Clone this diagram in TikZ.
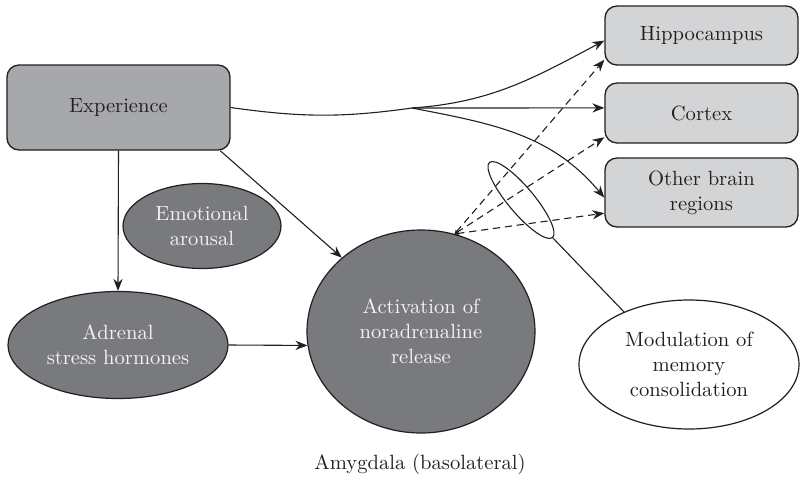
\documentclass[tikz,border=0pt]{standalone}
\usepackage{tikz}
\usepackage{xcolor}
\usetikzlibrary{arrows.meta,shapes.geometric}

\definecolor{inkblack}{HTML}{231F20}
\definecolor{expgray}{HTML}{A7A8AB}
\definecolor{tgtgray}{HTML}{D3D4D6}
\definecolor{ovalgray}{HTML}{797A7E}
\definecolor{ovaltext}{HTML}{F4F4F4}

\begin{document}
\begin{tikzpicture}[
    x=0.5pt, y=-0.5pt,
    font=\fontsize{10.3}{12.6}\selectfont,
    rbox/.style={
        rectangle,
        rounded corners=6pt,
        draw=inkblack,
        line width=0.65pt,
        text=inkblack,
        align=center,
        inner sep=0pt
    },
    srcbox/.style={
        rbox,
        fill=expgray,
        minimum width=111.5pt,
        minimum height=42.5pt
    },
    tgtbox/.style={
        rbox,
        fill=tgtgray,
        minimum width=96.5pt
    },
    darkoval/.style={
        ellipse,
        draw=inkblack,
        line width=0.6pt,
        fill=ovalgray,
        text=ovaltext,
        align=center,
        inner sep=0pt
    },
    whiteoval/.style={
        ellipse,
        draw=inkblack,
        line width=0.6pt,
        fill=white,
        text=inkblack,
        align=center,
        inner sep=0pt
    },
    arr/.style={
        draw=inkblack,
        line width=0.55pt,
        -{Stealth[length=6pt,width=4.6pt]}
    },
    dasharr/.style={
        draw=inkblack,
        line width=0.55pt,
        dash pattern=on 3.6pt off 2.4pt,
        {Stealth[length=2.2pt,width=2pt]}-{Stealth[length=6pt,width=4.6pt]}
    }
]
\useasboundingbox (0,0) rectangle (800,478);

% --- 左側：經驗與壓力荷爾蒙 ---
\node[srcbox] (exp) at (118.5,107.5) {Experience};
\node[darkoval, minimum width=79pt, minimum height=42.5pt] (emo) at (202,226) {Emotional\\arousal};
\node[darkoval, minimum width=110pt, minimum height=53.5pt] (adr) at (118,345) {Adrenal\\stress hormones};

% --- 杏仁核 ---
\node[darkoval, minimum width=114pt, minimum height=101.5pt] (act) at (421,331.5) {Activation of\\noradrenaline\\release};
\node[text=inkblack] (amy) at (420,464) {Amygdala (basolateral)};

% --- 右側：腦區 ---
\node[tgtbox, minimum height=29.5pt] (hip) at (701.5,35.5) {Hippocampus};
\node[tgtbox, minimum height=30pt] (cor) at (701.5,113) {Cortex};
\node[tgtbox, minimum height=34.5pt] (oth) at (701.5,192.5) {Other brain\\regions};

% 調節
\node[whiteoval, minimum width=110pt, minimum height=64.5pt] (mod) at (689,364.5) {Modulation of\\memory\\consolidation};
\node[draw=inkblack, line width=0.55pt, ellipse, minimum width=49pt, minimum height=13pt, inner sep=0pt, rotate=-50] (ring) at (521,200) {};

% --- 連線 ---
\coordinate (split) at (412,108);
\draw[arr] (exp.east) to[out=-8,in=188] (split) to[out=4,in=208] (hip.183);
\draw[arr] (split) -- (cor.177);
\draw[arr] (split) to[out=-11,in=130] (oth.183);

\draw[arr] (exp.south) -- (adr.north);
\draw[arr] (exp.-23) -- (act.137);
\draw[arr] (adr.east) -- (act.187);

\draw[dasharr] (act.71) -- (hip.194);
\draw[dasharr] (act.71) -- (cor.194);
\draw[dasharr] (act.71) -- (oth.192);

\draw[draw=inkblack, line width=0.55pt] (ring.east) -- (mod.141);
\end{tikzpicture}
\end{document}
